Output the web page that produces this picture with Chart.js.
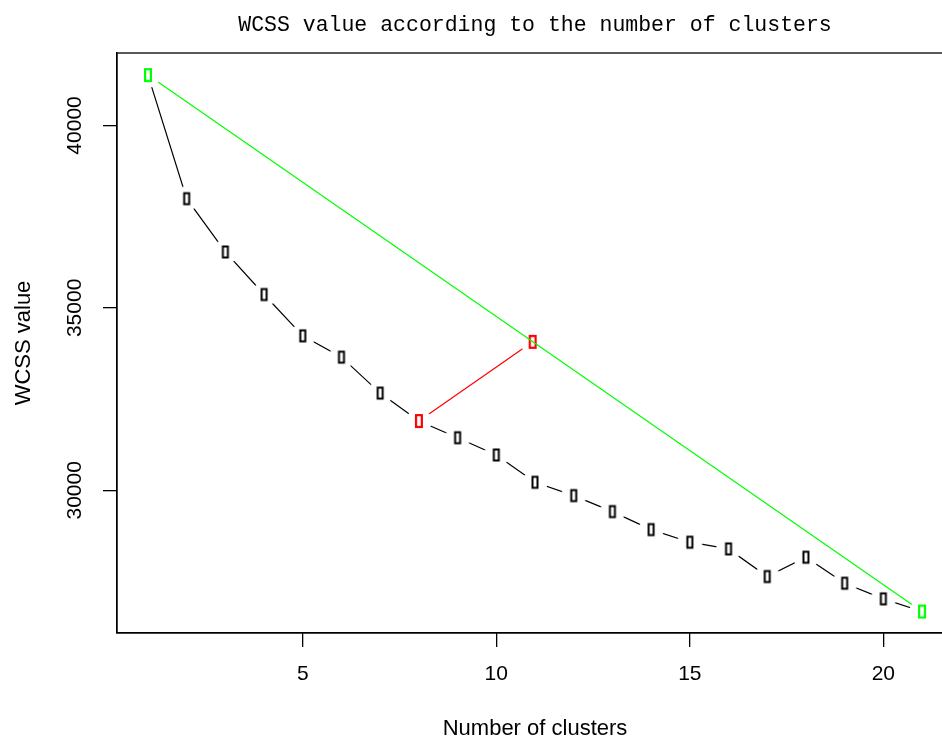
<!DOCTYPE html>
<html>
<head>
<meta charset="utf-8">
<title>WCSS elbow</title>
<script src="https://cdn.jsdelivr.net/npm/chart.js@4.4.1/dist/chart.umd.min.js"></script>
<style>
    html, body { margin: 0; padding: 0; background: #fff; overflow: hidden; }
    #caja { width: 980px; height: 760px; }
</style>
</head>
<body>
<div id="caja"><canvas id="grafica" width="980" height="760"></canvas></div>
<script>
// datos
const clusters = [1, 2, 3, 4, 5, 6, 7, 8, 9, 10, 11, 12, 13, 14, 15, 16, 17, 18, 19, 20, 21];
const wcss = [41380, 37994, 36533, 35366, 34233, 33650, 32665, 31899, 31442, 30969, 30221,
              29855, 29417, 28924, 28578, 28395, 27637, 28167, 27455, 27026, 26679];
const codoIdx = 7;          // punto del codo (8 clusters)
const proyX = [10.94];      // proyeccion sobre la recta verde
const proyY = [34070];
const xTicks = [5, 10, 15, 20];
const yTicks = [30000, 35000, 40000];

// marcador rectangular con halo blanco (como type="b" de R)
function marcador(color, w, h, lw) {
    const c = document.createElement("canvas");
    c.width = 26; c.height = 26;
    const g = c.getContext("2d");
    g.fillStyle = "#fff";
    g.beginPath();
    g.arc(13, 13, 12.5, 0, Math.PI * 2);
    g.fill();
    g.strokeStyle = color;
    g.lineWidth = lw;
    g.strokeRect(13 - w / 2 + lw / 2, 13 - h / 2 + lw / 2, w - lw, h - lw);
    return c;
}

const puntosNegros = clusters.map((c, i) => ({ x: c, y: wcss[i] }));
const puntosVerdes = [
    { x: clusters[0], y: wcss[0] },
    { x: clusters[clusters.length - 1], y: wcss[wcss.length - 1] }
];
const puntosRojos = [
    { x: clusters[codoIdx], y: wcss[codoIdx] },
    { x: proyX[0], y: proyY[0] }
];

// borde superior del recuadro
const recuadro = {
    id: "recuadro",
    afterDraw(chart) {
        const { ctx, chartArea } = chart;
        ctx.save();
        ctx.strokeStyle = "#000";
        ctx.lineWidth = 1.3;
        ctx.strokeRect(chartArea.left, chartArea.top, chartArea.right - chartArea.left, chartArea.bottom - chartArea.top);
        ctx.restore();
    }
};

const ctx = document.getElementById("grafica").getContext("2d");
new Chart(ctx, {
    type: "line",
    data: {
        datasets: [
            {
                data: puntosNegros,
                borderColor: "#000",
                borderWidth: 1.2,
                pointStyle: marcador("#000", 7, 13, 2),
                order: 2
            },
            {
                data: puntosRojos,
                borderColor: "#ff0000",
                borderWidth: 1.2,
                pointStyle: marcador("#ff0000", 8, 14, 2.2),
                order: 1
            },
            {
                data: puntosVerdes,
                borderColor: "#00ff00",
                borderWidth: 1.2,
                pointStyle: marcador("#00ff00", 8, 14, 2.2),
                order: 0
            }
        ]
    },
    options: {
        responsive: false,
        animation: false,
        events: [],
        devicePixelRatio: 1,
        layout: { padding: { top: 0, right: 27, left: 0, bottom: 0 } },
        elements: { line: { tension: 0, fill: false } },
        plugins: {
            legend: { display: false },
            tooltip: { enabled: false },
            title: {
                display: true,
                fullSize: false,
                text: "WCSS value according to the number of clusters",
                color: "#000",
                font: { family: "'Liberation Mono'", size: 21.5, weight: "normal", lineHeight: 1.2 },
                padding: { top: 12, bottom: 15.2 }
            }
        },
        scales: {
            x: {
                type: "linear",
                min: 0.2,
                max: 21.8,
                afterFit: (s) => { s.height = 760 - 633; },
                afterBuildTicks: (s) => { s.ticks = xTicks.map((v) => ({ value: v })); },
                border: { display: true, color: "#000", width: 1.3 },
                grid: { drawOnChartArea: false, drawTicks: true, tickLength: 14, color: "#000", lineWidth: 1.3 },
                ticks: {
                    color: "#000",
                    padding: 14.4,
                    font: { family: "'Liberation Sans', Arial", size: 21, lineHeight: 1.2 }
                },
                title: {
                    display: true,
                    text: "Number of clusters",
                    color: "#000",
                    font: { family: "'Liberation Sans', Arial", size: 22, lineHeight: 1.2 },
                    padding: { top: 0, bottom: 17.8 }
                }
            },
            y: {
                type: "linear",
                min: 26090,
                max: 41985,
                afterFit: (s) => { s.width = 117; },
                afterBuildTicks: (s) => { s.ticks = yTicks.map((v) => ({ value: v })); },
                border: { display: true, color: "#000", width: 1.3 },
                grid: { drawOnChartArea: false, drawTicks: true, tickLength: 14, color: "#000", lineWidth: 1.3 },
                ticks: {
                    color: "#000",
                    minRotation: 90,
                    maxRotation: 90,
                    crossAlign: "center",
                    padding: -1,
                    font: { family: "'Liberation Sans', Arial", size: 21, lineHeight: 1.2 },
                    callback: (v) => String(v)
                },
                title: {
                    display: true,
                    text: "WCSS value",
                    color: "#000",
                    font: { family: "'Liberation Sans', Arial", size: 22, lineHeight: 1.2 },
                    padding: { top: 10.8, bottom: 0 }
                }
            }
        }
    },
    plugins: [recuadro]
});
</script>
</body>
</html>
